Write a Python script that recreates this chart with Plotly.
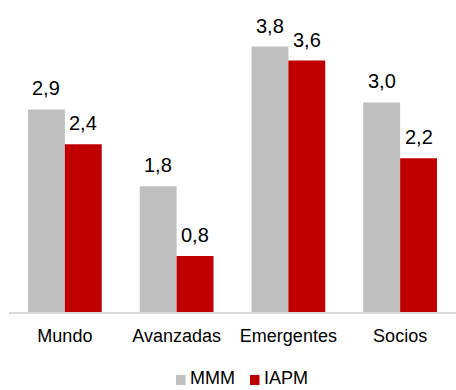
import plotly.graph_objects as go

# Series data
categories = ["Mundo", "Avanzadas", "Emergentes", "Socios"]
mmm = [2.9, 1.8, 3.8, 3.0]
iapm = [2.4, 0.8, 3.6, 2.2]
series_names = ["MMM", "IAPM"]
series_colors = ["#BFBFBF", "#C00000"]

FONT = "Arial, Liberation Sans, sans-serif"
W, H = 456, 390
ML, MR, MT, MB = 9, 0, 0, 78
plot_w = W - ML - MR
plot_h = H - MT - MB

BARGAP = 0.34
cat_px = plot_w / len(categories)
bar_px = cat_px * (1 - BARGAP) / 2


def fmt(v):
    return f"{v:.1f}".replace(".", ",")


fig = go.Figure()
for name, vals, color in zip(series_names, [mmm, iapm], series_colors):
    fig.add_trace(go.Bar(
        x=categories, y=vals, name=name,
        marker=dict(color=color, line=dict(width=0)),
        showlegend=False,
    ))

# Value labels above each bar
annotations = []
for vals, sign in zip([mmm, iapm], [-1, 1]):
    for c, v in zip(categories, vals):
        annotations.append(dict(
            x=c, y=v, xref="x", yref="y", text=fmt(v),
            showarrow=False, yanchor="bottom", xanchor="center",
            xshift=sign * bar_px / 2, yshift=8,
            font=dict(family=FONT, size=20, color="#000000"),
        ))

# Legend drawn below the axis: coloured square + series name
legend_items = [(176, series_names[0], series_colors[0]), (250, series_names[1], series_colors[1])]
shapes = []
for px, name, color in legend_items:
    x0 = (px - ML) / plot_w
    x1 = (px + 9.5 - ML) / plot_w
    y0 = (plot_h - 385) / plot_h
    y1 = (plot_h - 375) / plot_h
    shapes.append(dict(type="rect", xref="paper", yref="paper",
                       x0=x0, x1=x1, y0=y0, y1=y1,
                       fillcolor=color, line=dict(width=0)))
    annotations.append(dict(
        x=(px + 13 - ML) / plot_w, y=(plot_h - 378) / plot_h,
        xref="paper", yref="paper", text=name, showarrow=False,
        xanchor="left", yanchor="middle", borderpad=0,
        font=dict(family=FONT, size=18, color="#000000"),
    ))

fig.update_layout(
    width=W, height=H,
    margin=dict(l=ML, r=MR, t=MT, b=MB),
    paper_bgcolor="white", plot_bgcolor="white",
    barmode="group", bargap=BARGAP, bargroupgap=0,
    font=dict(family=FONT, color="#000000"),
    annotations=annotations, shapes=shapes,
    xaxis=dict(
        showline=True, linecolor="#D9D9D9", linewidth=2,
        showgrid=False, ticks="", zeroline=False,
        tickfont=dict(family=FONT, size=18, color="#000000"),
        ticklabelstandoff=6,
    ),
    yaxis=dict(
        range=[0, plot_h / 69.85], visible=False,
        showgrid=False, zeroline=False,
    ),
)

fig.write_html("out.html")
